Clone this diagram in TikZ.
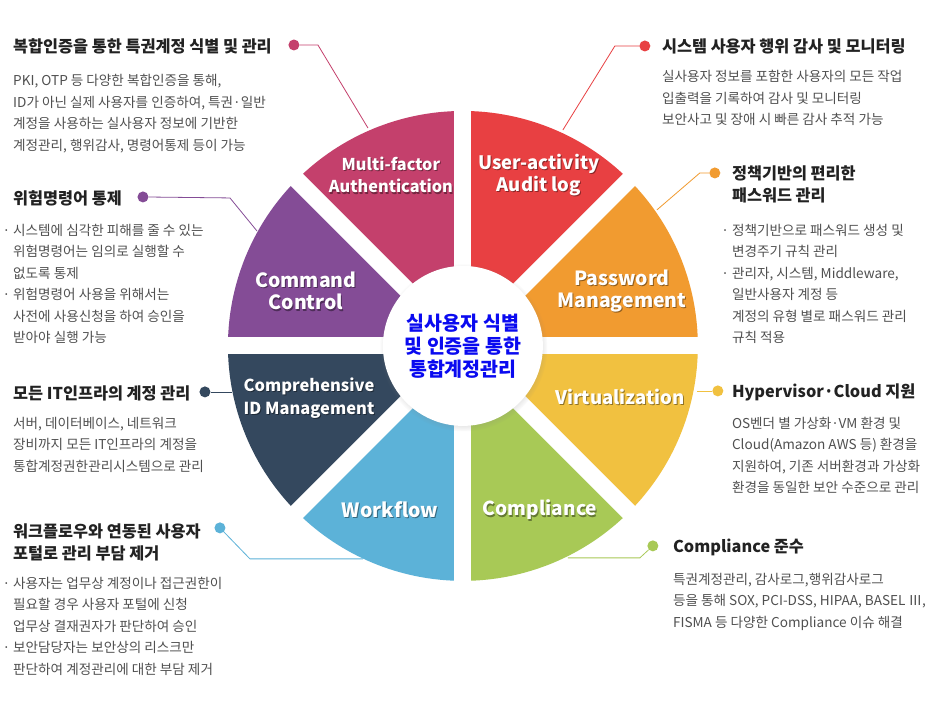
\documentclass[tikz,border=0pt]{standalone}
\usepackage{fontspec}
\setmainfont{Noto Sans CJK KR}
\usetikzlibrary{positioning}
\usetikzlibrary{shadows}
\definecolor{mfa}{RGB}{196,64,108}
\definecolor{audit}{RGB}{232,64,66}
\definecolor{pwd}{RGB}{241,155,48}
\definecolor{virt}{RGB}{241,193,64}
\definecolor{comp}{RGB}{168,201,86}
\definecolor{wflow}{RGB}{92,178,216}
\definecolor{cid}{RGB}{52,72,94}
\definecolor{cmd}{RGB}{132,76,150}
\definecolor{hubblue}{RGB}{10,10,240}
\definecolor{headgray}{RGB}{34,34,34}
\definecolor{descgray}{RGB}{80,80,80}
\newcommand\bul{\llap{·\hspace{3pt}}}

\begin{document}
\begin{tikzpicture}[x=1pt,y=1pt,
    head/.style={anchor=north west, inner sep=0pt, align=left, text=headgray,
      font=\bfseries\fontsize{16.3}{22}\selectfont},
    desc/.style={anchor=north west, inner sep=0pt, align=left, text=descgray,
      font=\fontsize{13.6}{21.5}\selectfont},
    dot/.style={circle, fill=#1, inner sep=0pt, minimum size=11pt},
    link/.style={draw=#1, line width=0.8pt},
    seclab/.style={text=white, align=center, inner sep=0pt,
      font=\bfseries\fontsize{#1}{22.5}\selectfont},
    seclab shadow/.style={seclab=#1, text=black, opacity=0.4},
    hub/.style={circle, fill=white, minimum size=160pt, inner sep=0pt,
      align=center, text=hubblue, font=\bfseries\fontsize{19.5}{23}\selectfont,
      circular drop shadow={shadow xshift=0.5pt, shadow yshift=-1.5pt,
        shadow scale=1.05, opacity=0.35}}]
  \fill[white] (0,0) rectangle (926,722);
  \coordinate (C) at (463,376);

  % wheel
  \foreach \a/\c in {0/pwd,45/audit,90/mfa,135/cmd,180/cid,225/wflow,270/comp,315/virt}
    \fill[\c] (C) -- ++(\a:235) arc[start angle=\a, delta angle=45, radius=235] -- cycle;
  \foreach \a in {0,45,90,135}
    \draw[white, line width=17pt] (C) ++(\a:245) -- ++(\a+180:490);
  \node[hub] (hub) at (C) {실사용자 식별\\및 인증을 통한\\통합계정관리};

  % sector labels
  \foreach \nm/\x/\y/\s/\t in {mfa/391/547/16.3/{Multi-factor\\Authentication},
      audit/539/547/18.5/{User-activity\\Audit log},
      cmd/306/431/19.5/{Command\\Control},
      pwd/622/431/19.5/{Password\\Management},
      cid/309/324/16.5/{Comprehensive\\ID Management},
      virt/620/325/18.6/{Virtualization},
      wflow/390/212/19.6/{Workflow},
      comp/540/212/19.2/{Compliance}}{
    \node[seclab shadow=\s] at (\x+1,\y-1.2) {\t};
    \node[seclab=\s] (lab-\nm) at (\x,\y) {\t};
  }

  % left column
  \node[head] (h1) at (13,684) {복합인증을 통한 특권계정 식별 및 관리};
  \node[desc] (t1) at (13,648) {PKI, OTP 등 다양한 복합인증을 통해,\\
    ID가 아닌 실제 사용자를 인증하여, 특권·일반\\
    계정을 사용하는 실사용자 정보에 기반한\\
    계정관리, 행위감사, 명령어통제 등이 가능};
  \node[dot=mfa] (d1) at (294,677) {};

  \node[head] (h3) at (13,532) {위험명령어 통제};
  \node[desc] (t3) at (13,498) {\bul 시스템에 심각한 피해를 줄 수 있는\\
    위험명령어는 임의로 실행할 수\\
    없도록 통제\\
    \bul 위험명령어 사용을 위해서는\\
    사전에 사용신청을 하여 승인을\\
    받아야 실행 가능};
  \node[dot=cmd] (d3) at (143,525) {};

  \node[head] (h5) at (13,336) {모든 IT인프라의 계정 관리};
  \node[desc] (t5) at (13,305) {서버, 데이터베이스, 네트워크\\
    장비까지 모든 IT인프라의 계정을\\
    통합계정권한관리시스템으로 관리};
  \node[dot=cid] (d5) at (205,330) {};

  \node[head] (h7) at (13,198) {워크플로우와 연동된 사용자\\포털로 관리 부담 제거};
  \node[desc] (t7) at (13,145) {\bul 사용자는 업무상 계정이나 접근권한이\\
    필요할 경우 사용자 포털에 신청\\
    업무상 결재권자가 판단하여 승인\\
    \bul 보안담당자는 보안상의 리스크만\\
    판단하여 계정관리에 대한 부담 제거};
  \node[dot=wflow] (d7) at (220,194) {};

  % right column
  \node[head] (h2) at (662,683) {시스템 사용자 행위 감사 및 모니터링};
  \node[desc] (t2) at (662,652) {실사용자 정보를 포함한 사용자의 모든 작업\\
    입출력을 기록하여 감사 및 모니터링\\
    보안사고 및 장애 시 빠른 감사 추적 가능};
  \node[dot=audit] (d2) at (645,676) {};

  \node[head] (h4) at (732,556) {정책기반의 편리한\\패스워드 관리};
  \node[desc] (t4) at (732,498) {\bul 정책기반으로 패스워드 생성 및\\
    변경주기 규칙 관리\\
    \bul 관리자, 시스템, Middleware,\\
    일반사용자 계정 등\\
    계정의 유형 별로 패스워드 관리\\
    규칙 적용};
  \node[dot=pwd] (d4) at (715,549) {};

  \node[head] (h6) at (732,338) {Hypervisor·Cloud 지원};
  \node[desc] (t6) at (732,305) {OS벤더 별 가상화·VM 환경 및\\
    Cloud(Amazon AWS 등) 환경을\\
    지원하여, 기존 서버환경과 가상화\\
    환경을 동일한 보안 수준으로 관리};
  \node[dot=virt] (d6) at (718,331) {};

  \node[head] (h8) at (673,183) {Compliance 준수};
  \node[desc] (t8) at (673,149) {특권계정관리, 감사로그,행위감사로그\\
    등을 통해 SOX, PCI-DSS, HIPAA, BASEL Ⅲ,\\
    FISMA 등 다양한 Compliance 이슈 해결};
  \node[dot=comp] (d8) at (653,176) {};

  % connectors
  \coordinate (k1) at (318,677);  \coordinate (e1) at (368,594);
  \coordinate (k2) at (615,676);  \coordinate (e2) at (563,592);
  \coordinate (k3) at (230,524);  \coordinate (e3) at (257,491);
  \coordinate (k4) at (700,549);  \coordinate (e4) at (657,512);
  \coordinate (e5) at (232,330);
  \coordinate (e6) at (697,331);
  \coordinate (k7) at (250,163);  \coordinate (e7) at (363,163);
  \coordinate (k8) at (640,164);  \coordinate (e8) at (568,164);
  \draw[link=mfa] (d1) -- (k1) -- (e1);
  \draw[link=audit] (d2) -- (k2) -- (e2);
  \draw[link=cmd] (d3) -- (k3) -- (e3);
  \draw[link=pwd] (d4) -- (k4) -- (e4);
  \draw[link=cid] (d5) -- (e5);
  \draw[link=virt] (d6) -- (e6);
  \draw[link=wflow] (d7) -- (k7) -- (e7);
  \draw[link=comp] (d8) -- (k8) -- (e8);
\end{tikzpicture}
\end{document}
